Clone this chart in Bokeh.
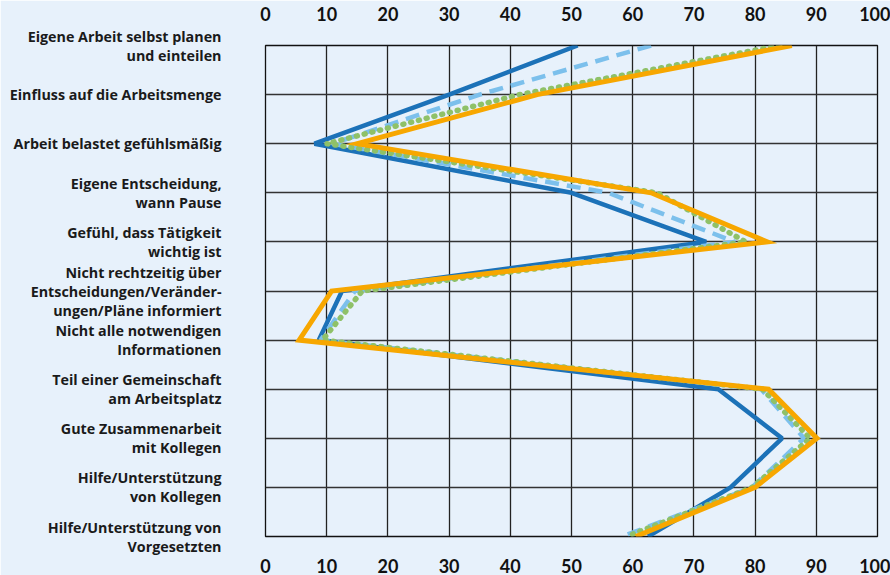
from bokeh.plotting import figure
from bokeh.models import Range1d, LinearAxis, FixedTicker
from bokeh.embed import file_html
from bokeh.resources import INLINE

categories = [
    "Eigene Arbeit selbst planen\nund einteilen",
    "Einfluss auf die Arbeitsmenge",
    "Arbeit belastet gefühlsmäßig",
    "Eigene Entscheidung,\nwann Pause",
    "Gefühl, dass Tätigkeit\nwichtig ist",
    "Nicht rechtzeitig über\nEntscheidungen/Veränder-\nungen/Pläne informiert",
    "Nicht alle notwendigen\nInformationen",
    "Teil einer Gemeinschaft\nam Arbeitsplatz",
    "Gute Zusammenarbeit\nmit Kollegen",
    "Hilfe/Unterstützung\nvon Kollegen",
    "Hilfe/Unterstützung von\nVorgesetzten",
]
y_pos = list(range(len(categories)))

series_dark = [51, 30, 8, 50, 72, 12.5, 8.7, 74, 84.4, 76, 62.5]
series_light = [63, 35, 10.9, 56, 76.7, 14.6, 9, 81, 88, 79.5, 58.3]
series_green = [84, 41.5, 10, 64, 78.5, 15.8, 9.3, 81.2, 89, 79.5, 59]
series_orange = [86, 44.4, 15, 63, 82, 10.8, 5.5, 82.2, 90.1, 80, 60.5]
x_ticks = [0, 10, 20, 30, 40, 50, 60, 70, 80, 90, 100]

BG = "#e7f1fb"

p = figure(width=890, height=575, output_backend="svg", toolbar_location=None,
           x_range=Range1d(0, 100), y_range=Range1d(10, 0),
           min_border_left=265, min_border_right=13, min_border_top=45,
           min_border_bottom=37, x_axis_location=None, y_axis_location=None)
p.background_fill_color = BG
p.border_fill_color = BG
p.outline_line_color = "#111111"
p.outline_line_width = 1.3

for loc in ("above", "below"):
    ax = LinearAxis(ticker=FixedTicker(ticks=x_ticks))
    ax.axis_line_color = None
    ax.major_tick_line_color = None
    ax.minor_tick_line_color = None
    ax.major_label_text_font = "Lato"
    ax.major_label_text_font_style = "bold"
    ax.major_label_text_font_size = "18px"
    ax.major_label_text_color = "#111111"
    ax.major_label_standoff = 19 if loc == "above" else 16
    p.add_layout(ax, loc)

yax = LinearAxis(ticker=FixedTicker(ticks=y_pos))
yax.major_label_overrides = {i: t for i, t in zip(y_pos, categories)}
yax.axis_line_color = None
yax.major_tick_line_color = None
yax.minor_tick_line_color = None
yax.major_label_text_font = "Open Sans"
yax.major_label_text_font_style = "bold"
yax.major_label_text_font_size = "14.3px"
yax.major_label_text_color = "#1a1a1a"
yax.major_label_text_line_height = 1.0
yax.major_label_standoff = 38
p.add_layout(yax, "left")

p.xgrid.ticker = FixedTicker(ticks=x_ticks)
p.ygrid.ticker = FixedTicker(ticks=y_pos)
p.xgrid.grid_line_color = "#222222"
p.ygrid.grid_line_color = "#333333"
p.xgrid.grid_line_width = 1.3
p.ygrid.grid_line_width = 1.6

p.line(series_dark, y_pos, line_color="#1c72b8", line_width=4.5)
p.line(series_light, y_pos, line_color="#7cc0ec", line_width=4.5, line_dash="14 8")
p.line(series_green, y_pos, line_color="#8fc168", line_width=5.5, line_dash="1 7",
       line_cap="round")
p.line(series_orange, y_pos, line_color="#f7a700", line_width=5, line_join="miter")

open("out.html", "w").write(file_html(p, INLINE))
